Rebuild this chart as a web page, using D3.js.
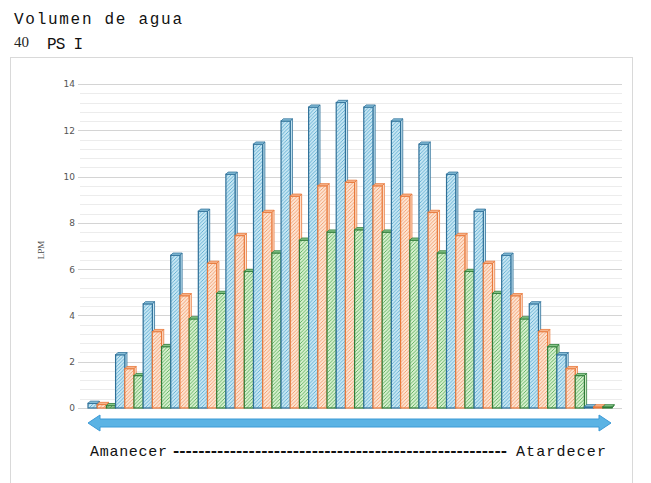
<!DOCTYPE html>
<html><head><meta charset="utf-8">
<script src="https://cdn.jsdelivr.net/npm/d3@7"></script>
<style>html,body{margin:0;padding:0;background:#fff;}svg{display:block;}</style>
</head><body>
<svg id="c" width="651" height="483"></svg>
<script>
const hours = d3.range(19).map(i => "h" + (i + 1));
const seriesNames = ["A", "B", "C"];
const blueVals   = [0.2, 2.3, 4.5, 6.6, 8.5, 10.1, 11.4, 12.4, 13.0, 13.2, 13.0, 12.4, 11.4, 10.1, 8.5, 6.6, 4.5, 2.3, 0.05];
const orangeVals = [0.15, 1.7, 3.3, 4.85, 6.25, 7.45, 8.45, 9.15, 9.6, 9.75, 9.6, 9.15, 8.45, 7.45, 6.25, 4.85, 3.3, 1.7, 0.05];
const greenVals  = [0.1, 1.4, 2.65, 3.85, 4.95, 5.9, 6.7, 7.25, 7.6, 7.7, 7.6, 7.25, 6.7, 5.9, 4.95, 3.85, 2.65, 1.4, 0.05];
const yTicks = [0, 2, 4, 6, 8, 10, 12, 14];

const svg = d3.select("#c");
const defs = svg.append("defs");
const styles = [
  {fill: "#c6e6f3", hatch: "#5aa9cf", stroke: "#2f7098", top: "#8cc3dc"},
  {fill: "#fde3d1", hatch: "#f19a68", stroke: "#e8793b", top: "#f6b48c"},
  {fill: "#d6efcd", hatch: "#55ad58", stroke: "#2f7c38", top: "#86c588"}
];
styles.forEach((s, i) => {
  const p = defs.append("pattern").attr("id", "h" + i).attr("patternUnits", "userSpaceOnUse")
    .attr("width", 3.5).attr("height", 3.5);
  p.append("rect").attr("width", 3.5).attr("height", 3.5).attr("fill", s.fill);
  p.append("path").attr("d", "M-1,1 l2,-2 M0,3.5 l3.5,-3.5 M2.5,4.5 l2,-2")
    .attr("stroke", s.hatch).attr("stroke-width", 0.85);
});

// outer chart border
svg.append("rect").attr("x", 10.5).attr("y", 57.5).attr("width", 622).attr("height", 440)
  .attr("fill", "none").attr("stroke", "#d9d9d9");

// titles
svg.append("text").attr("x", 14).attr("y", 24).attr("font-family", "Liberation Mono, Courier New, monospace")
  .attr("font-size", 16).attr("textLength", 168).attr("lengthAdjust", "spacing").attr("fill", "#111").text("Volumen de agua");
svg.append("text").attr("x", 14).attr("y", 47).attr("font-family", "Liberation Serif, Times New Roman, serif")
  .attr("font-size", 15).attr("fill", "#222").text("40");
svg.append("text").attr("x", 47).attr("y", 49).attr("font-family", "Liberation Mono, Courier New, monospace")
  .attr("font-size", 16).attr("textLength", 36).attr("lengthAdjust", "spacing").attr("fill", "#111").text("PS I");

const y = d3.scaleLinear().domain([0, 14]).range([408, 84]);
const x = d3.scaleBand().domain(hours).range([88, 612]).padding(0);
const sub = d3.scaleBand().domain(seriesNames).range([0, x.bandwidth()]).padding(0);

// gridlines
const minor = d3.range(0, 14.01, 0.4);
svg.append("g").selectAll("line").data(minor).join("line")
  .attr("x1", 80).attr("x2", 622)
  .attr("y1", d => Math.round(y(d)) + 0.5).attr("y2", d => Math.round(y(d)) + 0.5)
  .attr("stroke", "#ececec").attr("stroke-width", 1);
svg.append("g").selectAll("line").data(yTicks).join("line")
  .attr("x1", 78).attr("x2", 622)
  .attr("y1", d => Math.round(y(d)) + 0.5).attr("y2", d => Math.round(y(d)) + 0.5)
  .attr("stroke", "#d4d4d4").attr("stroke-width", 1);

// y axis labels
const yAxis = d3.axisLeft(y).tickValues(yTicks).tickSize(0).tickPadding(0);
const ga = svg.append("g").attr("transform", "translate(75,0)").call(yAxis);
ga.select(".domain").remove();
ga.selectAll("text").attr("font-family", "DejaVu Sans, Verdana, sans-serif").attr("font-size", 9).attr("fill", "#555");

svg.append("text").attr("transform", "translate(44,250) rotate(-90)").attr("text-anchor", "middle")
  .attr("font-family", "Liberation Serif, serif").attr("font-size", 9).attr("fill", "#444").text("LPM");

// bars
const series = [blueVals, orangeVals, greenVals];
const dx = 2.2, dy = 2.2;
const y0 = y(0);
const barsG = svg.append("g");
hours.forEach((h, i) => {
  series.forEach((vals, si) => {
    const s = styles[si];
    const bx = x(h) + sub(seriesNames[si]);
    const w = sub.bandwidth();
    const yt = y(vals[i]);
    const g = barsG.append("g");
    g.append("path").attr("d", `M${bx + w},${yt} L${bx + w + dx},${yt - dy} L${bx + w + dx},${y0 - dy} L${bx + w},${y0} Z`)
      .attr("fill", s.fill).attr("stroke", s.stroke).attr("stroke-width", 0.8);
    g.append("rect").attr("x", bx).attr("y", yt).attr("width", w).attr("height", y0 - yt)
      .attr("fill", `url(#h${si})`).attr("stroke", s.stroke).attr("stroke-width", 1.2);
    g.append("path").attr("d", `M${bx},${yt} L${bx + dx},${yt - dy} L${bx + w + dx},${yt - dy} L${bx + w},${yt} Z`)
      .attr("fill", s.top).attr("stroke", s.stroke).attr("stroke-width", 0.8);
  });
});

// double arrow
const ay = 423, ax0 = 88, ax1 = 611, hw = 12, bh = 4, hh = 8;
svg.append("path").attr("d",
  `M${ax0},${ay} L${ax0 + hw},${ay - hh} L${ax0 + hw},${ay - bh} L${ax1 - hw},${ay - bh} L${ax1 - hw},${ay - hh} L${ax1},${ay} L${ax1 - hw},${ay + hh} L${ax1 - hw},${ay + bh} L${ax0 + hw},${ay + bh} L${ax0 + hw},${ay + hh} Z`)
  .attr("fill", "#5bb3e4").attr("stroke", "#3d9ad6").attr("stroke-width", 1);

// bottom text
const mono = "Liberation Mono, Courier New, monospace";
svg.append("text").attr("x", 90).attr("y", 456).attr("font-family", mono).attr("font-size", 15)
  .attr("textLength", 77).attr("lengthAdjust", "spacing").attr("fill", "#111").text("Amanecer");
svg.append("text").attr("x", 173).attr("y", 456).attr("font-family", "DejaVu Sans, sans-serif").attr("font-weight", "bold").attr("font-size", 14)
  .attr("textLength", 334).attr("lengthAdjust", "spacingAndGlyphs").attr("fill", "#111").text("-".repeat(53));
svg.append("text").attr("x", 516).attr("y", 456).attr("font-family", mono).attr("font-size", 15)
  .attr("textLength", 90).attr("lengthAdjust", "spacing").attr("fill", "#111").text("Atardecer");
</script>
</body></html>
